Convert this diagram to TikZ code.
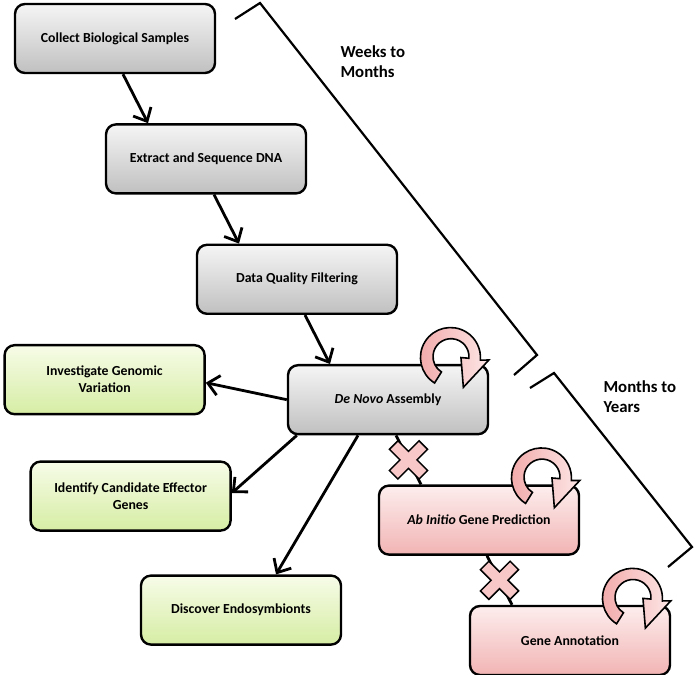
\documentclass[tikz,border=0pt]{standalone}
\usepackage{fontspec}
\setmainfont{Carlito}
\usepackage{tikz}
\usetikzlibrary{arrows.meta,positioning,calc}

\definecolor{greyA}{HTML}{F5F5F5}
\definecolor{greyB}{HTML}{C0C0C0}
\definecolor{greenA}{HTML}{F7FCE8}
\definecolor{greenB}{HTML}{D6EDA4}
\definecolor{pinkA}{HTML}{FDEDED}
\definecolor{pinkB}{HTML}{F2B4B4}
\definecolor{ringA}{HTML}{F2A8A8}
\definecolor{ringB}{HTML}{FDE6E6}
\definecolor{crossA}{HTML}{F8C8C8}

\begin{document}
\begin{tikzpicture}[
  x=1pt, y=1pt,
  node distance=49pt,
  box/.style={draw, line width=2.4pt, rounded corners=10pt, minimum width=200pt, minimum height=69pt, align=center, font=\bfseries\fontsize{13.8}{17}\selectfont},
  grey/.style={box, top color=greyA, bottom color=greyB},
  green/.style={box, top color=greenA, bottom color=greenB},
  pink/.style={box, top color=pinkA, bottom color=pinkB},
  arrow/.style={-{Straight Barb[length=11pt,width=20pt]}, line width=2.8pt},
  link/.style={line width=2.8pt},
  bracket/.style={line width=2.2pt},
  timing/.style={align=left, anchor=west, font=\bfseries\fontsize{16.8}{20}\selectfont},
  cyc/.pic={
    \filldraw[line width=1.6pt, left color=ringA, right color=ringB]
      (238:31) arc[start angle=238, end angle=-5, radius=30]
      -- (-5:38) -- (-68:33) -- (-5:10) -- (-5:18)
      arc[start angle=-5, end angle=238, radius=18] -- cycle;
  },
  blk/.pic={
    \filldraw[line width=1.5pt, fill=crossA, rotate=45]
      (6,6) -- (21,6) -- (21,-6) -- (6,-6) -- (6,-21) -- (-6,-21) -- (-6,-6)
      -- (-21,-6) -- (-21,6) -- (-6,6) -- (-6,21) -- (6,21) -- cycle;
  }
]
\useasboundingbox (0,0) rectangle (697,675);

\node[grey] (n1) at (115,636.5) {Collect Biological Samples};
\node[grey, below=of n1, xshift=91pt] (n2) {Extract and Sequence DNA};
\node[grey, below=of n2, xshift=91pt] (n3) {Data Quality Filtering};
\node[grey, below=of n3, xshift=91pt] (n4) {\textit{De Novo} Assembly};
\node[pink, below=of n4, xshift=91pt] (n5) {\textit{Ab Initio} Gene Prediction};
\node[pink, below=of n5, xshift=91pt] (n6) {Gene Annotation};

\node[green, left=81pt of n4, yshift=20pt] (o1) {Investigate Genomic\\Variation};
\node[green, below left=25pt and 55pt of n4] (o2) {Identify Candidate Effector\\Genes};
\node[green, below=139pt of n4, xshift=-147pt] (o3) {Discover Endosymbionts};

\foreach \a/\b in {n1/n2, n2/n3, n3/n4}
  \draw[arrow] ([xshift=8pt]\a.south) -- ([xshift=-58pt]\b.north);

\draw[arrow] (n4.west) -- ([yshift=-3pt]o1.east);
\draw[arrow] ([xshift=10pt]n4.south west) -- ([yshift=3pt]o2.east);
\draw[arrow] ([xshift=-30pt]n4.south) -- ([xshift=35pt]o3.north);

% blocked steps
\foreach \a/\b in {n4/n5, n5/n6} {
  \draw[link] ([xshift=8pt]\a.south) -- ([xshift=-58pt]\b.north);
  \pic at ($([xshift=8pt]\a.south)!0.5!([xshift=-58pt]\b.north)$) {blk};
}

\foreach \a in {n4, n5, n6}
  \pic at ([shift={(63pt,43pt)}]\a.center) {cyc};

% time brackets
\draw[bracket] (235,656) -- (260,672) -- (537,320) -- (514,300);
\draw[bracket] (530,287) -- (554,302) -- (692,128) -- (668,108);
\node[timing] (t1) at (337,613) {Weeks to\\Months};
\node[timing] (t2) at (600,278) {Months to\\Years};
\end{tikzpicture}
\end{document}
